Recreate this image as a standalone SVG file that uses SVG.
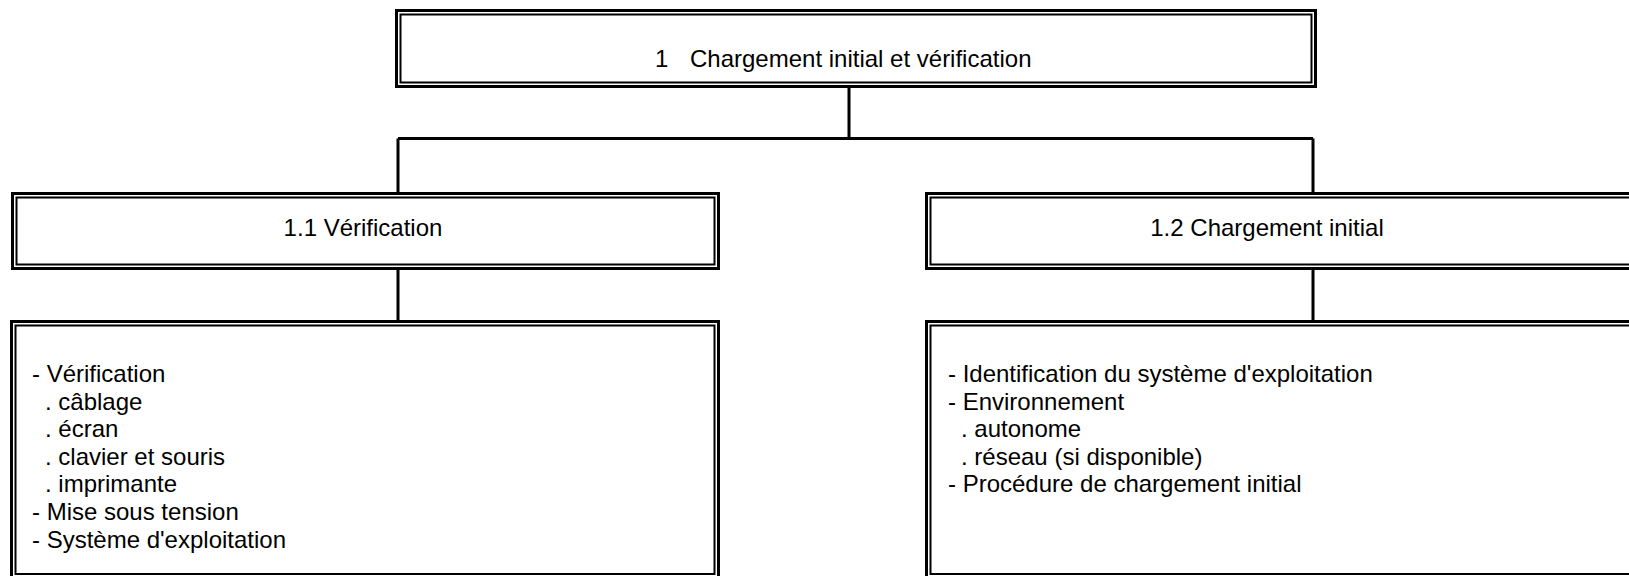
<svg xmlns="http://www.w3.org/2000/svg" width="1629" height="576" viewBox="0 0 1629 576">
<style>
.o{fill:#fff;stroke:#000;stroke-width:3}
.i{fill:none;stroke:#000;stroke-width:2}
.c{fill:none;stroke:#000;stroke-width:3}
text{font-family:"Liberation Sans",Arial,sans-serif;font-size:24px;fill:#000}
.m{text-anchor:middle}
</style>
<rect width="1629" height="576" fill="#fff"/>
<g id="connectors">
<path class="c" d="M849 88V138.5M398 138.5H1313M398 138.5V192M1313 138.5V192M398 270V320M1313 270V320"/>
</g>
<g id="n1">
<rect class="o" x="396.5" y="10.5" width="919" height="76"/>
<rect class="i" x="400.5" y="14.5" width="911" height="68"/>
<text x="655" y="67">1</text>
<text x="690" y="67">Chargement initial et vérification</text>
</g>
<g id="n11">
<rect class="o" x="12.5" y="193.5" width="706" height="75"/>
<rect class="i" x="16.5" y="197.5" width="698" height="67"/>
<text class="m" x="363" y="236">1.1 Vérification</text>
</g>
<g id="n12">
<rect class="o" x="926.5" y="193.5" width="720" height="75"/>
<rect class="i" x="930.5" y="197.5" width="712" height="67"/>
<text class="m" x="1267" y="236">1.2 Chargement initial</text>
</g>
<g id="n11d">
<rect class="o" x="11.5" y="321.5" width="707" height="257"/>
<rect class="i" x="15.5" y="325.5" width="699" height="248.5"/>
<text x="32" y="382">- Vérification</text>
<text x="45" y="409.6">. câblage</text>
<text x="45" y="437.2">. écran</text>
<text x="45" y="464.8">. clavier et souris</text>
<text x="45" y="492.4">. imprimante</text>
<text x="32" y="520">- Mise sous tension</text>
<text x="32" y="547.6">- Système d'exploitation</text>
</g>
<g id="n12d">
<rect class="o" x="926.5" y="321.5" width="720" height="257"/>
<rect class="i" x="930.5" y="325.5" width="712" height="248.5"/>
<text x="948" y="382">- Identification du système d'exploitation</text>
<text x="948" y="409.6">- Environnement</text>
<text x="961" y="437.2">. autonome</text>
<text x="961" y="464.8">. réseau (si disponible)</text>
<text x="948" y="492.4">- Procédure de chargement initial</text>
</g>
</svg>
